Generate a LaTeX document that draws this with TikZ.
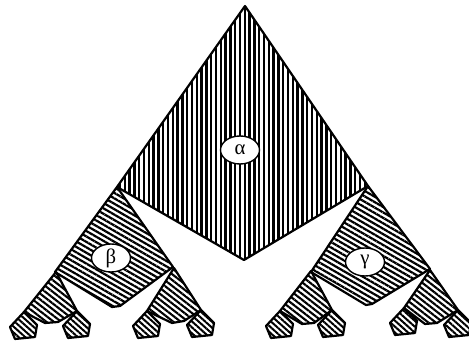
\documentclass[tikz,border=0pt]{standalone}
\usepackage{fontspec}
\newfontfamily\greekfont{Liberation Serif}
\usetikzlibrary{patterns.meta, shapes.geometric}

\begin{document}
\begin{tikzpicture}[
    x=1pt, y=-1pt,
    piece/.style={draw, line width=2.2pt, line join=round},
    hatchA/.style={piece, pattern={Lines[angle=90, distance=4.8pt, line width=2.4pt]}},
    hatchB/.style={piece, pattern={Lines[angle=-30, distance=4.7pt, line width=2.2pt]}},
    hatchC/.style={piece, pattern={Lines[angle=-38, distance=4.6pt, line width=2.1pt]}},
    hatchD/.style={piece, pattern={Lines[angle=-42, distance=4.4pt, line width=2pt]}},
    tag/.style={ellipse, draw, fill=white, line width=1.4pt, inner sep=0pt,
      minimum width=39pt, minimum height=28pt, font=\greekfont\huge},
  ]
  \useasboundingbox (0,0) rectangle (469,344);

  % top piece
  \draw[hatchA] (245,6) -- (117,187) -- (244,260) -- (368,186) -- cycle;

  % second row
  \draw[hatchB] (117,187) -- (55,272) -- (112,307) -- (120,306) -- (173,267) -- cycle;
  \draw[hatchB] (368,186) -- (311,272) -- (366,305) -- (372,304) -- (430,269) -- cycle;

  % third row
  \draw[hatchC] (56,272) -- (24,312) -- (45,323) -- (58,322) -- (77,311) -- cycle;
  \draw[hatchC] (174,268) -- (147,311) -- (172,323) -- (184,321) -- (201,310) -- cycle;
  \draw[hatchC] (311,271) -- (280,311) -- (302,324) -- (314,323) -- (332,310) -- cycle;
  \draw[hatchC] (430,270) -- (404,308) -- (425,324) -- (437,323) -- (458,310) -- cycle;

  % bottom row
  \foreach \tx/\ty in {24/312, 77/311, 147/311, 201/310, 280/311, 332/310, 404/308, 458/310}
    \draw[hatchD] (\tx,\ty) -- ++(-14,15) -- ++(5,12) -- ++(20,-2) -- ++(2,-12) -- cycle;

  % labels
  \node[tag] (alpha) at (240,150) {α};
  \node[tag] (beta) at (111,258) {β};
  \node[tag] (gamma) at (365,262) {γ};
\end{tikzpicture}
\end{document}
